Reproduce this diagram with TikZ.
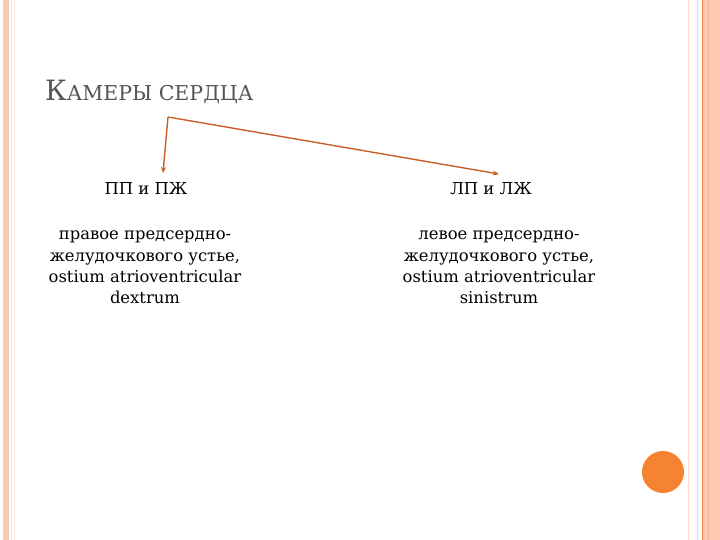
\documentclass[tikz,border=0pt]{standalone}
\usepackage{fontspec}
\setmainfont{DejaVu Serif}
\usetikzlibrary{arrows.meta}

\definecolor{stripcol}{RGB}{251,200,178}
\definecolor{linecol}{RGB}{236,128,80}
\definecolor{dotcol}{RGB}{245,131,50}
\definecolor{arrowcol}{RGB}{200,95,40}
\definecolor{titlecol}{RGB}{85,85,85}

\tikzset{
    pairlabel/.style={font=\fontsize{16.4}{19}\selectfont, inner sep=2pt},
    desclabel/.style={font=\fontsize{16.4}{21.3}\selectfont, align=center, inner sep=0pt},
    branch/.style={arrowcol, line width=1.4pt, -{Stealth[length=6pt,width=5pt]}}
}

\begin{document}
\begin{tikzpicture}[x=1pt,y=-1pt]
        \useasboundingbox (0,0) rectangle (720,540);
        % side strips
        \fill[stripcol] (3,0) rectangle (9,540);
        \draw[stripcol!60, line width=0.8pt] (11.5,0) -- (11.5,540);
        \draw[stripcol!40, line width=0.6pt] (14,0) -- (14,540);
        \fill[stripcol] (703,0) rectangle (720,540);
        \draw[linecol, line width=1pt] (702,0) -- (702,540);
        \draw[stripcol!80, line width=0.8pt] (697,0) -- (697,540);
        \draw[stripcol!70, line width=0.8pt] (688.5,0) -- (688.5,540);
        \draw[linecol!60, line width=0.5pt] (708,0) -- (708,540);
        \fill[dotcol] (663,472) circle (21);
        % title
        \node[anchor=base west, text=titlecol, inner sep=0pt] (title) at (45,101)
            {\fontsize{28}{32}\selectfont К\fontsize{20.5}{24}\selectfont АМЕРЫ СЕРДЦА};
        % chambers
        \node[pairlabel, anchor=base] (rpair) at (146,195) {ПП и ПЖ};
        \node[pairlabel, anchor=base] (lpair) at (491,195) {ЛП и ЛЖ};
        \node[desclabel, anchor=north] (rdesc) at (145,231)
            {правое предсердно-\\желудочкового устье,\\ostium atrioventricular\\dextrum};
        \node[desclabel, anchor=north] (ldesc) at (499,231)
            {левое предсердно-\\желудочкового устье,\\ostium atrioventricular\\sinistrum};
        \coordinate (bend) at (168,117);
        \coordinate (rtip) at (163,173);
        \coordinate (ltip) at (499,174);
        \draw[branch] (bend) -- (rtip);
        \draw[branch] (bend) -- (ltip);
    \end{tikzpicture}
\end{document}
